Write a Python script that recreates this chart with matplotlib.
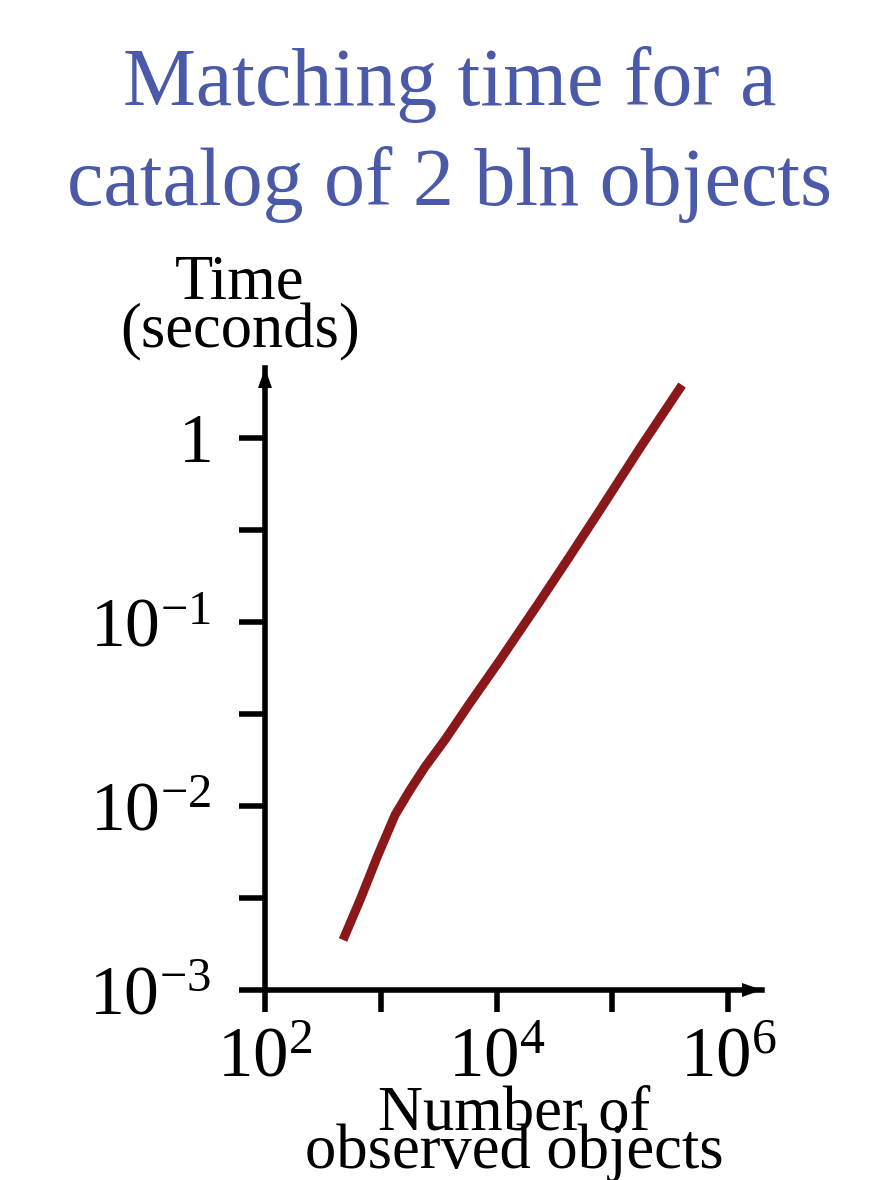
import matplotlib
matplotlib.use("Agg")
import matplotlib.pyplot as plt
from matplotlib.patches import Polygon
import numpy as np

# ---- data ----
n_objects = [472, 662, 947, 1328, 1790, 2411, 3589, 5902, 10720, 23770, 43150, 78370, 173800, 400900]
time_sec = [0.00187, 0.00308, 0.00542, 0.00893, 0.01222, 0.0163, 0.0229, 0.0363, 0.0621, 0.130, 0.2286, 0.406, 0.883, 1.94]
x_major = [1e2, 1e4, 1e6]
x_major_labels = ["$10^{2}$", "$10^{4}$", "$10^{6}$"]
x_minor = [1e3, 1e5]
y_major = [1e-3, 1e-2, 1e-1, 1]
y_major_labels = ["$10^{-3}$", "$10^{-2}$", "$10^{-1}$", "$1$"]
y_minor = [10**-2.5, 10**-1.5, 10**-0.5]
title_lines = ["Matching time for a", "catalog of 2 bln objects"]
ylabel_lines = ["Time", "(seconds)"]
xlabel_lines = ["Number of", "observed objects"]

plt.rcParams['font.family'] = ['Liberation Serif', 'DejaVu Serif']
plt.rcParams['mathtext.fontset'] = 'custom'
plt.rcParams['mathtext.rm'] = 'Liberation Serif'
plt.rcParams['mathtext.it'] = 'Liberation Serif'

W, H = 880, 1180
fig = plt.figure(figsize=(W/100, H/100), dpi=100)
L, R, B, T = 265, 762, 990, 368
ax = fig.add_axes([L/W, 1-B/H, (R-L)/W, (B-T)/H])
ax.set_xscale('log')
ax.set_yscale('log')
ax.set_xlim(1e2, 10**(2+(R-L)/115.75))
ax.set_ylim(1e-3, 10**(-3+(B-T)/184.0))

ax.plot(n_objects, time_sec, color='#8a1719', lw=6.5, solid_capstyle='butt', solid_joinstyle='round')

for s in ['top', 'right']:
    ax.spines[s].set_visible(False)
for s in ['left', 'bottom']:
    ax.spines[s].set_linewidth(4.0)
    ax.spines[s].set_color('black')

ax.set_xticks(x_major)
ax.set_xticklabels(x_major_labels)
ax.set_xticks(x_minor, minor=True)
ax.set_xticklabels([], minor=True)
ax.set_yticks(y_major)
ax.set_yticklabels(y_major_labels)
ax.set_yticks(y_minor, minor=True)
ax.set_yticklabels([], minor=True)

ax.tick_params(axis='x', which='both', direction='out', length=16, width=4.0, pad=10, labelsize=51)
ax.tick_params(axis='y', which='both', direction='out', length=19, width=4.0, pad=20, labelsize=50)

# arrow heads
axw, axh = (R-L), (B-T)
ax.add_patch(Polygon([(0, 1), (-7/axw, 1-20/axh), (7/axw, 1-20/axh)], closed=True,
                     transform=ax.transAxes, clip_on=False, color='black', lw=0))
ax.add_patch(Polygon([(1, 0), (1-20/axw, -7/axh), (1-20/axw, 7/axh)], closed=True,
                     transform=ax.transAxes, clip_on=False, color='black', lw=0))

# title
fig.text(450/W, 1-105/H, title_lines[0], ha='center', va='baseline', fontsize=59, color='#4a5aa8')
fig.text(450/W, 1-205/H, title_lines[1], ha='center', va='baseline', fontsize=59, color='#4a5aa8')

# y label
fig.text(240/W, 1-299/H, ylabel_lines[0], ha='center', va='baseline', fontsize=45)
fig.text(240/W, 1-347/H, ylabel_lines[1], ha='center', va='baseline', fontsize=45)

# x label
fig.text(514/W, 1-1130/H, xlabel_lines[0], ha='center', va='baseline', fontsize=45)
fig.text(514/W, 1-1168/H, xlabel_lines[1], ha='center', va='baseline', fontsize=45)

fig.savefig('out.png', dpi=100)
